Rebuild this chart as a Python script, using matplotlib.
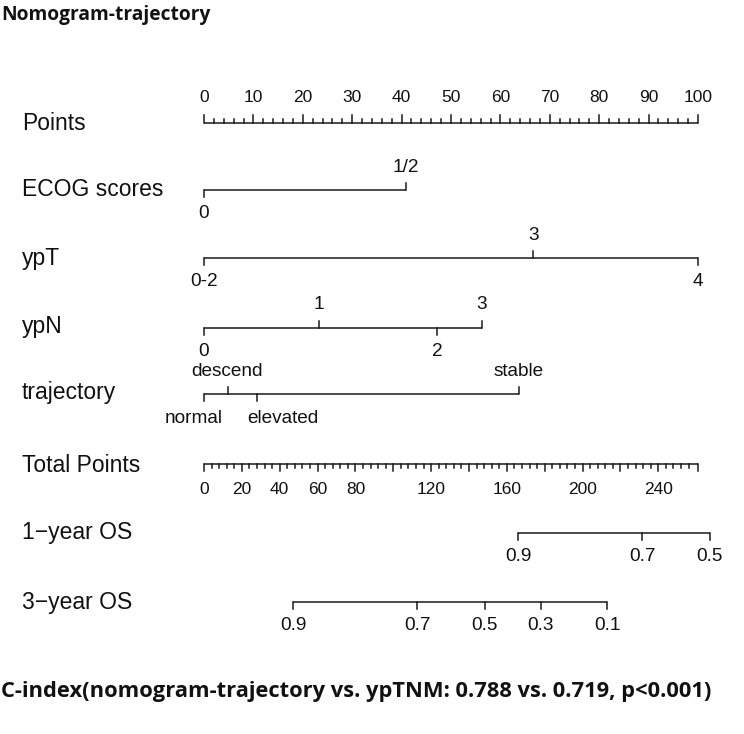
import matplotlib
matplotlib.use("Agg")
import matplotlib.pyplot as plt
import numpy as np

# ---------------- data ----------------
title = "Nomogram-trajectory"
footer = "C-index(nomogram-trajectory vs. ypTNM: 0.788 vs. 0.719, p<0.001)"

row_names = ["Points", "ECOG scores", "ypT", "ypN", "trajectory",
             "Total Points", "1\u2212year OS", "3\u2212year OS"]

points_major = list(range(0, 101, 10))
points_minor = list(range(0, 101, 2))

ecog_labels = ["0", "1/2"]
ecog_points = [0, 40.9]

ypt_labels = ["0-2", "3", "4"]
ypt_points = [0, 66.7, 100]

ypn_labels = ["0", "1", "2", "3"]
ypn_points = [0, 23.3, 47.2, 56.2]

traj_labels = ["normal", "descend", "elevated", "stable"]
traj_points = [0, 4.8, 10.7, 63.7]

total_max = 261
total_major = list(range(0, 261, 20))
total_minor = list(range(0, 260, 4))
total_labels = [0, 20, 40, 60, 80, 120, 160, 200, 240]

os1_probs = ["0.9", "0.7", "0.5"]
os1_total = [166.0, 231.5, 267.3]

os3_probs = ["0.9", "0.7", "0.5", "0.3", "0.1"]
os3_total = [47.2, 112.7, 148.4, 177.9, 213.0]

# ---------------- layout ----------------
W, H = 744, 734
fig = plt.figure(figsize=(W / 100, H / 100), dpi=100)
ax = fig.add_axes([0, 0, 1, 1])
x0_px, x100_px = 204, 698
scale = (x100_px - x0_px) / 100.0
ax.set_xlim(-x0_px / scale, (W - x0_px) / scale)
ax.set_ylim(H, 0)
ax.axis("off")

LC = "#1a1a1a"
TC = "#111111"
LW = 1.1
FONT = ["Liberation Sans", "DejaVu Sans"]

def tp2x(t):
    return np.asarray(t, dtype=float) * 100.0 / total_max

row_y = [123, 190, 258, 326, 393, 465, 532, 602]
for name, y in zip(row_names, row_y):
    ax.text(-x0_px / scale + 22 / scale, y, name, fontsize=16.5,
            family=FONT, va="center", ha="left", color=TC)

# Points axis
yP = 122.7
ax.plot([0, 100], [yP, yP], color=LC, lw=LW, solid_capstyle="butt")
for v in points_minor:
    L = 8 if v % 10 == 0 else 4
    ax.plot([v, v], [yP, yP - L], color=LC, lw=LW)
for v in points_major:
    ax.text(v, 98, str(v), fontsize=12.5, family=FONT, ha="center", va="center", color=TC)

# categorical axes (label shift in px to avoid overlaps, as in the reference)
def cat_axis(y, pts, labels, shift_px=None):
    if shift_px is None:
        shift_px = [0] * len(pts)
    ax.plot([min(pts), max(pts)], [y, y], color=LC, lw=LW, solid_capstyle="butt")
    for i, (p, lab, s) in enumerate(zip(pts, labels, shift_px)):
        lx = p + s / scale
        if i % 2 == 0:
            ax.plot([p, p], [y, y + 7], color=LC, lw=LW)
            ax.text(lx, y + 24, lab, fontsize=13.7, family=FONT, ha="center", va="center", color=TC)
        else:
            ax.plot([p, p], [y, y - 7], color=LC, lw=LW)
            ax.text(lx, y - 23, lab, fontsize=13.7, family=FONT, ha="center", va="center", color=TC)

cat_axis(190, ecog_points, ecog_labels)
cat_axis(258, ypt_points, ypt_labels)
cat_axis(327.7, ypn_points, ypn_labels)
cat_axis(394.3, traj_points, traj_labels, shift_px=[-10, -1, 26, 0])

# Total points axis
yT = 464
ax.plot([0, 100], [yT, yT], color=LC, lw=LW, solid_capstyle="butt")
for v in total_minor:
    L = 6.5 if v % 20 == 0 else 3.5
    ax.plot([tp2x(v), tp2x(v)], [yT, yT + L], color=LC, lw=LW)
ax.plot([100, 100], [yT, yT + 6.5], color=LC, lw=LW)
for v in total_labels:
    ax.text(tp2x(v), 489, str(v), fontsize=12.5, family=FONT, ha="center", va="center", color=TC)

# survival axes
def prob_axis(y, tots, labels):
    xs = tp2x(tots)
    ax.plot([xs.min(), xs.max()], [y, y], color=LC, lw=LW, solid_capstyle="butt")
    for xv, lab in zip(xs, labels):
        ax.plot([xv, xv], [y, y + 7], color=LC, lw=LW)
        ax.text(xv, y + 24, lab, fontsize=13.7, family=FONT, ha="center", va="center", color=TC)

prob_axis(532.7, os1_total, os1_probs)
prob_axis(601.7, os3_total, os3_probs)

# title & footer (bold, fitted to reference widths)
fig.canvas.draw()
r = fig.canvas.get_renderer()

def fitted(text, x_px, y_px, target_w):
    t = fig.text(x_px / W, 1 - y_px / H, text, fontsize=14,
                 family=["Liberation Sans Narrow", "Open Sans", "DejaVu Sans"],
                 weight="bold", ha="left", va="center", color=TC)
    w = t.get_window_extent(renderer=r).width
    t.set_fontsize(14 * target_w / w)
    return t

fitted(title, 1, 15, 210)
fitted(footer, 1, 691, 713)

fig.savefig("out.png", dpi=100)
